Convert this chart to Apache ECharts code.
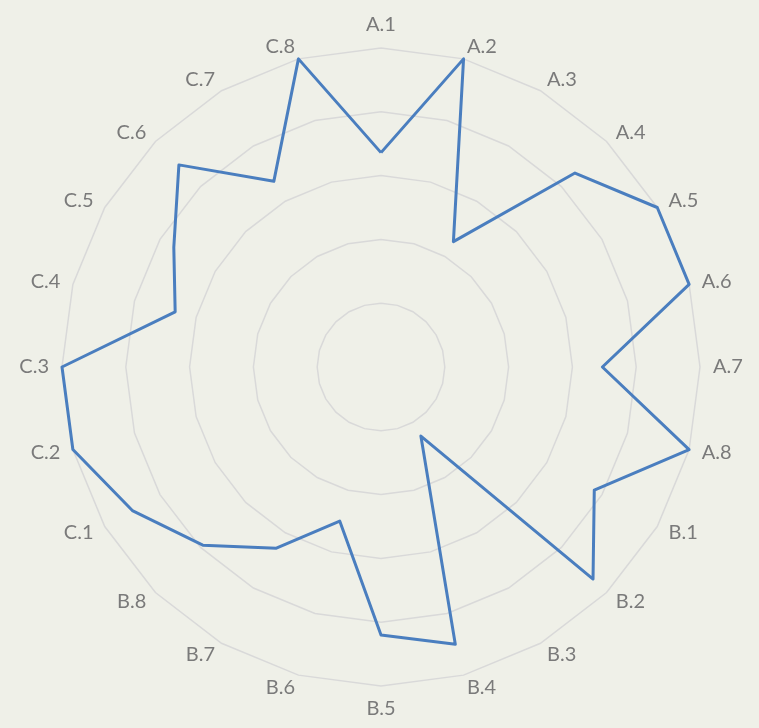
<!DOCTYPE html>
<html><head><meta charset="utf-8">
<script src="https://cdn.jsdelivr.net/npm/echarts@6/dist/echarts.min.js"></script>
<style>html,body{margin:0;padding:0;background:#EFF0E8;}#c{width:759px;height:728px;}</style>
</head><body><div id="c"></div>
<script>
var categories = ['A.1','A.2','A.3','A.4','A.5','A.6','A.7','A.8',
                  'B.1','B.2','B.3','B.4','B.5','B.6','B.7','B.8',
                  'C.1','C.2','C.3','C.4','C.5','C.6','C.7','C.8'];
var values = [3.36, 5.0, 2.27, 4.3, 5.0, 5.0, 3.47, 5.0,
              3.86, 4.7, 1.25, 4.5, 4.2, 2.5, 3.28, 3.95,
              4.5, 5.0, 5.0, 3.34, 3.75, 4.48, 3.36, 5.0];
var maxValue = 5;

// ECharts radar runs counter-clockwise; reorder so categories run clockwise from the top
function clockwiseOrder(arr){ return [arr[0]].concat(arr.slice(1).reverse()); }
var cats = clockwiseOrder(categories);
var vals = clockwiseOrder(values);

var chart = echarts.init(document.getElementById('c'), null, {renderer:'canvas'});
chart.setOption({
  backgroundColor: '#EFF0E8',
  animation: false,
  radar: {
    center: [381, 367],
    radius: 319,
    startAngle: 90,
    shape: 'polygon',
    splitNumber: 5,
    indicator: cats.map(function(n){ return {name: n, min: 0, max: maxValue}; }),
    axisName: { color: '#7A7A7A', fontFamily: 'Lato', fontSize: 20 },
    nameGap: 13,
    axisLine: { show: false },
    axisTick: { show: false },
    axisLabel: { show: false },
    splitArea: { show: false },
    splitLine: { lineStyle: { color: '#D9D9D9', width: 1.5 } }
  },
  series: [{
    type: 'radar',
    symbol: 'none',
    data: [{ value: vals }],
    lineStyle: { color: '#4A7EBF', width: 3 }
  }]
});
</script></body></html>
